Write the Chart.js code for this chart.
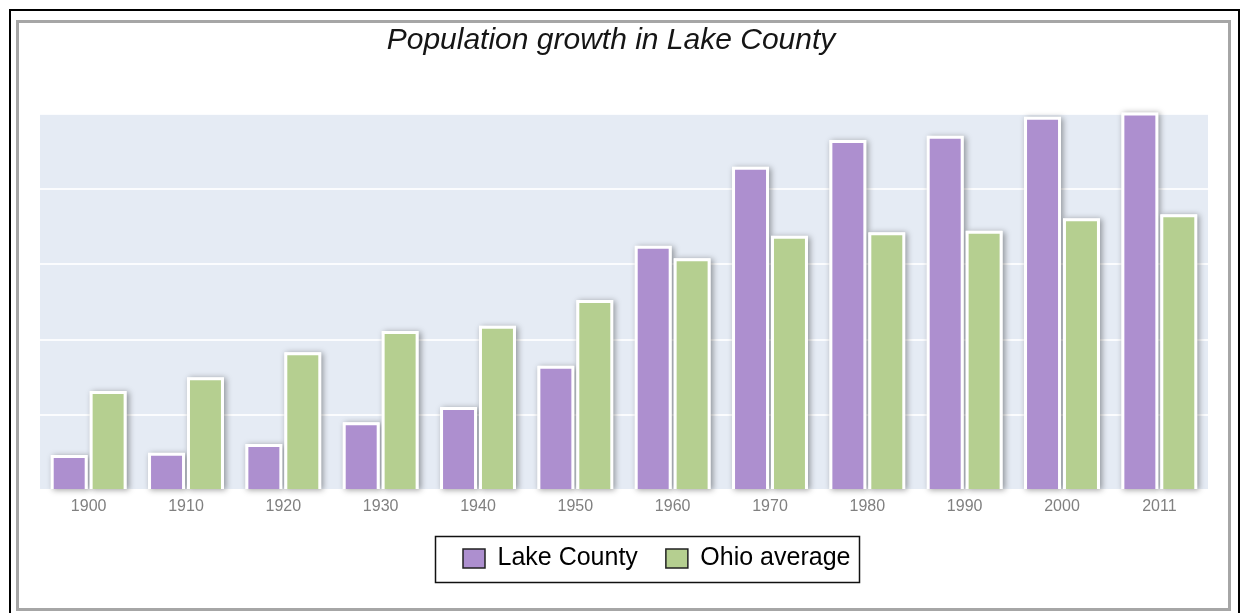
<!DOCTYPE html>
<html>
<head>
<meta charset="utf-8">
<title>Population growth in Lake County</title>
<script src="https://cdn.jsdelivr.net/npm/chart.js@4/dist/chart.umd.min.js"></script>
<style>
  html, body { margin: 0; padding: 0; background: #fff; width: 1243px; height: 613px; overflow: hidden; }
  .frame-outer { position: absolute; left: 9px; top: 9px; width: 1231px; height: 620px; border: 2px solid #000; box-sizing: border-box; }
  .frame-inner { position: absolute; left: 16px; top: 20px; width: 1215px; height: 591px; border: 3px solid #a6a6a6; box-sizing: border-box; background: #fff; }
  #chart { position: absolute; left: 0; top: 0; z-index: 2; }
</style>
</head>
<body>
<div class="frame-outer"></div>
<div class="frame-inner"></div>
<canvas id="chart" width="1243" height="613"></canvas>
<script>
// Census years on the category axis
const years = ['1900', '1910', '1920', '1930', '1940', '1950', '1960', '1970', '1980', '1990', '2000', '2011'];

// Residents of Lake County
const lakeCounty = [21600, 23000, 28400, 41800, 51200, 76700, 150700, 199500, 216000, 218600, 230300, 233000];

// Ohio comparison series
const ohioAverage = [61100, 69500, 85000, 98100, 101400, 117200, 143000, 156900, 159000, 160000, 167600, 170100];

// Series names and colours
const seriesNames = ['Lake County', 'Ohio average'];
const seriesColors = ['#ad8fcf', '#b5cf90'];

// Value axis range (unlabelled, five bands)
const yMax = 232000;
const yStep = 46400;

const FONT = "'Liberation Sans', Arial, Helvetica, sans-serif";

// Light blue plot background behind the grid
const plotBackground = {
  id: 'plotBackground',
  beforeDraw(chart) {
    const { ctx, chartArea: a } = chart;
    ctx.save();
    ctx.fillStyle = '#e5ebf4';
    ctx.fillRect(a.left, a.top, a.right - a.left, a.bottom - a.top);
    ctx.restore();
  }
};

// Soft drop shadow under every bar
const barShadow = {
  id: 'barShadow',
  beforeDatasetsDraw(chart) {
    const ctx = chart.ctx;
    ctx.save();
    ctx.shadowColor = 'rgba(0,0,0,0.38)';
    ctx.shadowBlur = 6;
    ctx.shadowOffsetX = 2;
    ctx.shadowOffsetY = 1;
    ctx.fillStyle = '#ffffff';
    chart.data.datasets.forEach((ds, i) => {
      chart.getDatasetMeta(i).data.forEach(bar => {
        const { x, y, base, width } = bar.getProps(['x', 'y', 'base', 'width'], true);
        ctx.fillRect(x - width / 2, y, width, base - y);
      });
    });
    ctx.restore();
  }
};

// Legend placement and its framed box
const legendFrame = {
  id: 'legendFrame',
  afterLayout(chart) {
    const lg = chart.legend;
    if (!lg || !lg.lineWidths) return;
    const pad = lg.options.labels.padding;
    const start = (lg.left + pad + lg.right - lg.lineWidths[0]) / 2;
    const dx = 463 - start;
    lg.left += dx;
    lg.right += dx;
  },
  afterDraw(chart) {
    const lg = chart.legend;
    const hb = lg && lg.legendHitBoxes;
    if (!hb || !hb.length) return;
    const first = hb[0], last = hb[hb.length - 1];
    const x0 = first.left - 28;
    const x1 = last.left + last.width + 9;
    const y0 = first.top - 10;
    const y1 = first.top + first.height + 11;
    const ctx = chart.ctx;
    ctx.save();
    ctx.strokeStyle = '#111';
    ctx.lineWidth = 1.5;
    ctx.strokeRect(Math.round(x0) + 0.5, Math.round(y0) + 0.5, Math.round(x1 - x0), Math.round(y1 - y0));
    ctx.restore();
  }
};

new Chart(document.getElementById('chart'), {
  type: 'bar',
  data: {
    labels: years,
    datasets: [
      {
        label: seriesNames[0],
        data: lakeCounty,
        backgroundColor: seriesColors[0],
        borderColor: '#ffffff',
        borderWidth: 3,
        categoryPercentage: 0.8,
        barPercentage: 0.95
      },
      {
        label: seriesNames[1],
        data: ohioAverage,
        backgroundColor: seriesColors[1],
        borderColor: '#ffffff',
        borderWidth: 3,
        categoryPercentage: 0.8,
        barPercentage: 0.95
      }
    ]
  },
  options: {
    responsive: false,
    animation: false,
    devicePixelRatio: 1,
    layout: { padding: { left: 14, right: 35, top: 0, bottom: 32 } },
    plugins: {
      title: {
        display: true,
        text: 'Population growth in Lake County',
        color: '#151515',
        font: { family: FONT, size: 30, style: 'italic', weight: 'normal', lineHeight: 1.2 },
        padding: { top: 23, bottom: 55 }
      },
      legend: {
        display: true,
        position: 'bottom',
        labels: {
          color: '#111',
          font: { family: FONT, size: 25 },
          boxWidth: 22,
          boxHeight: 19,
          padding: 28,
          generateLabels(chart) {
            return chart.data.datasets.map((ds, i) => ({
              text: ds.label,
              fillStyle: ds.backgroundColor,
              strokeStyle: '#222',
              lineWidth: 1.5,
              hidden: false,
              datasetIndex: i
            }));
          }
        }
      },
      tooltip: { enabled: false }
    },
    scales: {
      x: {
        grid: { display: false, drawTicks: false },
        border: { display: true, color: '#ffffff', width: 2 },
        ticks: { color: '#808080', font: { family: FONT, size: 16 }, padding: 7, maxRotation: 0 },
        afterFit(scale) { scale.height = 28; }
      },
      y: {
        min: 0,
        max: yMax,
        grid: { color: 'rgba(255,255,255,0.85)', lineWidth: 2, drawTicks: false },
        border: { display: false },
        ticks: { display: false, stepSize: yStep },
        afterFit(scale) { scale.width = 26; }
      }
    }
  },
  plugins: [plotBackground, barShadow, legendFrame]
});
</script>
</body>
</html>
